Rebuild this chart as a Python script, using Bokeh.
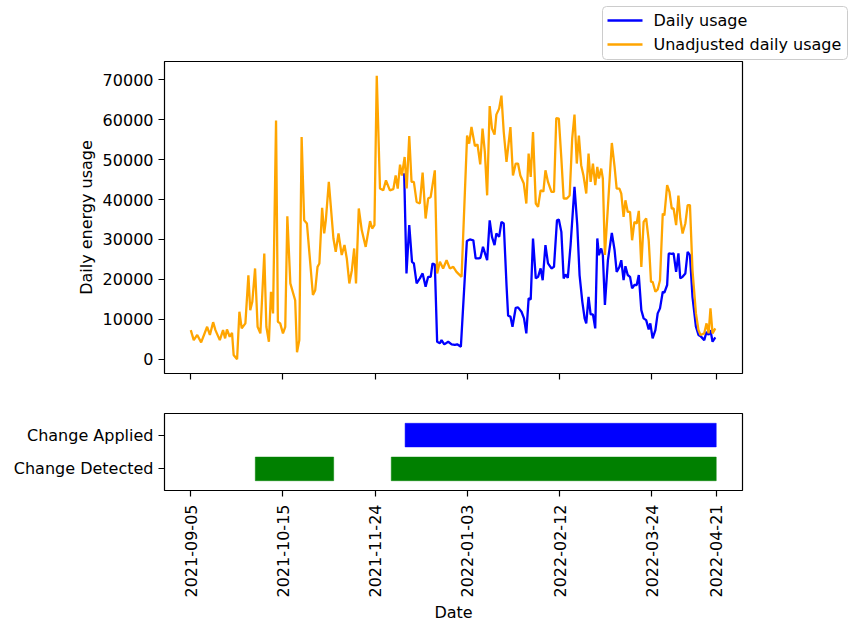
import math
from datetime import datetime, timedelta
from bokeh.plotting import figure
from bokeh.layouts import column
from bokeh.core.properties import value
from bokeh.models import (FixedTicker, DatetimeTickFormatter, Range1d, CustomJSTickFormatter)
from bokeh.embed import file_html
from bokeh.resources import INLINE

start = datetime(2021, 9, 5)

# Unadjusted daily usage: days since 2021-09-05, value
unadj_day = [0.0, 1.3, 2.8, 4.5, 7.1, 8.3, 9.7, 10.7, 12.6, 14.0, 14.9, 15.7, 16.9, 17.9, 18.6, 20.1,
             21.1, 22.1, 23.7, 25.0, 25.8, 26.7, 27.9, 29.0, 30.2, 31.9, 32.8, 33.9, 34.8, 35.7, 37.0,
             37.8, 38.8, 40.0, 41.0, 41.9, 43.2, 45.3, 46.1, 47.1, 48.1, 49.2, 50.4, 53.0, 54.0, 55.0,
             55.8, 57.0, 57.9, 58.6, 59.9, 61.9, 62.9, 64.1, 65.5, 66.7, 67.7, 68.8, 69.9, 70.9, 71.7,
             72.9, 74.2, 75.9, 77.8, 78.7, 79.7, 80.7, 82.1, 83.5, 84.7, 86.4, 87.9, 88.9, 89.8, 90.8,
             91.6, 92.8, 93.7, 94.8, 95.8, 96.8, 98.0, 99.4, 100.6, 101.9, 103.0, 104.1, 105.9, 106.9,
             108.1, 109.5, 111.0, 112.4, 113.9, 115.3, 117.5, 119.9, 120.8, 121.8, 123.3, 124.4, 125.6,
             126.6, 127.6, 128.6, 129.7, 130.7, 131.8, 132.6, 133.8, 134.8, 135.8, 137.0, 138.7, 139.8,
             141.0, 142.0, 143.0, 144.5, 145.6, 146.6, 147.5, 148.5, 149.7, 150.7, 151.8, 153.0, 153.9,
             155.0, 156.5, 157.6, 158.6, 159.7, 160.8, 161.8, 163.2, 164.4, 165.5, 166.5, 167.5, 168.4,
             169.4, 170.4, 171.6, 172.6, 173.5, 174.5, 175.5, 176.4, 177.1, 178.1, 178.8, 179.7, 181.0,
             182.7, 183.9, 184.8, 186.0, 186.8, 187.8, 188.6, 189.6, 190.6, 191.5, 192.5, 193.5, 194.4,
             195.5, 196.5, 197.6, 198.7, 199.7, 200.4, 201.6, 202.6, 203.6, 204.8, 205.5, 206.7, 207.7,
             208.7, 209.5, 210.6, 211.6, 212.4, 213.4, 214.6, 215.6, 216.6, 217.7, 219.2, 220.3, 221.2,
             222.8, 223.8, 224.7, 225.5, 226.4, 227.6]
unadj_val = [7300, 4800, 6100, 4250, 8150, 6100, 9300, 7300, 4800, 7300, 5250, 7500, 5650, 6650, 1100, 0,
             11900, 7750, 9000, 21000, 12300, 14400, 22750, 8150, 6500, 26500, 8150, 4400, 16900, 11500, 59800,
             9400, 9000, 6500, 8150, 35800, 19000, 14800, 1750, 4800, 55650, 34800, 34000, 16100, 17300, 23150,
             24000, 37900, 31500, 34800, 44400, 30250, 26900, 31500, 26100, 28600, 25250, 19000, 22300, 27750, 19000,
             37750, 32300, 28150, 34600, 32750, 33600, 71000, 42750, 42300, 44800, 42300, 42600, 46000, 42750, 48750,
             46000, 50650, 42750, 55900, 44400, 44400, 39400, 39000, 46750, 35250, 40250, 40650, 47300, 21500,
             24400, 22750, 24800, 22750, 23150, 21900, 20650, 56000, 54000, 58150, 53400, 53800, 48800,
             57750, 51900, 41050, 63400, 57750, 56250, 61250, 62750, 66000, 56900, 49400, 58150, 46000,
             49000, 49000, 46000, 44000, 39000, 51500, 45650, 56900, 39000, 38150, 42300, 42000, 47300,
             44400, 41900, 41900, 60400, 60250, 50250, 40250, 40250, 41000, 55250, 61250, 49000, 56000,
             48600, 46000, 41500, 51500, 44400, 49000, 43600, 48150, 45250, 47750, 45250, 26100, 38150,
             54150, 48150, 42750, 42750, 41500, 35650, 39800, 36900, 36900, 29800, 34400, 34000, 37150,
             23150, 34400, 35250, 29800, 19400, 19400, 16900, 17500, 19800, 36500, 36000, 43600, 41900,
             37750, 37750, 33600, 41000, 35250, 31500, 34000, 38600, 38600, 22300, 11500, 7300, 6100,
             6500, 9000, 6500, 12750, 6500, 7750]

# Daily usage (adjusted): days since 2021-09-05, value
daily_day = [92.6, 93.6, 94.8, 96.0, 96.8, 98.0, 99.4, 100.6, 101.9, 103.0, 104.1, 104.9, 105.9, 106.9,
             108.1, 108.8, 110.0, 111.7, 113.2, 114.6, 115.6, 117.2, 119.8, 121.1, 122.6, 123.6, 124.9,
             125.7, 126.8, 128.6, 129.7, 130.7, 131.8, 132.6, 133.8, 134.8, 135.8, 137.0, 137.7, 138.7,
             139.6, 141.0, 142.0, 143.5, 144.6, 145.6, 146.6, 147.5, 148.5, 149.7, 150.7, 151.8, 152.7,
             153.9, 155.0, 156.5, 157.6, 158.9, 159.7, 160.8, 161.8, 162.6, 163.6, 164.8, 166.5, 167.7,
             168.7, 169.9, 170.9, 171.6, 172.6, 173.5, 174.5, 175.5, 176.4, 177.1, 178.1, 178.8, 179.7,
             181.0, 182.7, 183.9, 184.8, 186.0, 186.8, 187.8, 188.6, 189.6, 190.6, 191.5, 192.5, 193.5,
             194.4, 195.5, 196.5, 197.6, 198.7, 199.4, 200.4, 201.6, 202.6, 203.6, 204.8, 205.5, 206.7,
             207.4, 208.7, 209.5, 210.6, 211.6, 212.4, 213.4, 214.6, 215.6, 216.6, 217.7, 219.2, 220.3,
             221.2, 222.8, 223.8, 224.7, 225.5, 226.4, 227.6]
daily_val = [46600, 21500, 33600, 24400, 24000, 19000, 20250, 21500, 18150, 20650, 20650, 24000, 23750, 4400,
             4000, 4800, 3750, 4400, 3750, 3600, 3750, 3150, 29600, 30000, 29800, 25300, 25250,
             25400, 28150, 24800, 34800, 30650, 28600, 31500, 30650, 34400, 34000, 18600, 10900, 10700,
             8150, 12900, 13000, 11900, 10250, 6500, 15250, 15000, 30250, 20250, 20650, 22750, 19800,
             28600, 24000, 22750, 23150, 34800, 35000, 31900, 20250, 21250, 20400, 28600, 43150, 33600,
             21100, 14400, 10250, 9000, 15650, 11250, 11250, 7750, 30250, 26100, 27750, 26100, 13600,
             24800, 31650, 27300, 21900, 23150, 24800, 19800, 23300, 21100, 20650, 17750, 18600, 18600,
             21100, 12300, 10250, 9800, 7500, 9000, 5250, 7300, 11500, 12750, 16900, 16700, 18600,
             26500, 26400, 26500, 21900, 26500, 20250, 20650, 21500, 26900, 26100, 15650, 8150, 6100,
             5800, 4800, 6900, 6100, 7300, 4400, 5500]

tick_labels = ["2021-09-05", "2021-10-15", "2021-11-24", "2022-01-03",
               "2022-02-12", "2022-03-24", "2022-04-21"]
y_ticks = [0, 10000, 20000, 30000, 40000, 50000, 60000, 70000]

change_categories = ["Change Detected", "Change Applied"]
detected_start = ["2021-10-03", "2021-12-01"]
detected_end = ["2021-11-06", "2022-04-21"]
applied_start = ["2021-12-07"]
applied_end = ["2022-04-21"]

series_labels = ["Daily usage", "Unadjusted daily usage"]
series_colors = ["#0000ff", "#ffa500"]

FONT = "DejaVu Sans"
FS = "16px"
W = 848
LEG_H = 61


def d2t(d):
    return start + timedelta(days=d)


def s2t(s):
    return datetime.strptime(s, "%Y-%m-%d")


def ms(t):
    return (t - datetime(1970, 1, 1)).total_seconds() * 1000.0


ux = [d2t(d) for d in unadj_day]
dx = [d2t(d) for d in daily_day]

all_x = ux + dx + [s2t(s) for s in detected_start + detected_end + applied_start + applied_end]
xmin, xmax = min(all_x), max(all_x)
span = xmax - xmin
x_range = Range1d(xmin - span * 0.05, xmax + span * 0.05)

all_y = unadj_val + daily_val
ymin, ymax = min(all_y), max(all_y)
ys = ymax - ymin
y_range = Range1d(ymin - 0.05 * ys, ymax + 0.05 * ys)

tick_ms = [ms(s2t(s)) for s in tick_labels]
fmt = "%Y-%m-%d"
formatter = DatetimeTickFormatter(milliseconds=fmt, seconds=fmt, minsec=fmt, minutes=fmt,
                                  hourmin=fmt, hours=fmt, days=fmt, months=fmt, years=fmt)


def style_axes(p):
    p.xgrid.visible = False
    p.ygrid.visible = False
    p.outline_line_color = "black"
    p.outline_line_width = 1.2
    p.background_fill_color = "white"
    p.border_fill_color = "white"
    for ax in (p.xaxis[0], p.yaxis[0]):
        ax.axis_line_color = None
        ax.major_tick_out = 6
        ax.major_tick_in = 0
        ax.major_tick_line_width = 1.2
        ax.major_tick_line_color = "black"
        ax.minor_tick_out = 0
        ax.minor_tick_in = 0
        ax.major_label_text_font = FONT
        ax.major_label_text_font_size = FS
        ax.major_label_text_color = "black"
        ax.axis_label_text_font = FONT
        ax.axis_label_text_font_size = FS
        ax.axis_label_text_font_style = "normal"
        ax.axis_label_text_color = "black"


# ---- legend strip (separate root above the axes), drawn in pixel units ----
pl = figure(width=W, height=LEG_H, x_range=Range1d(0, W), y_range=Range1d(LEG_H, 0),
            min_border=0, x_axis_location=None, y_axis_location=None,
            output_backend="svg", toolbar_location=None)
pl.outline_line_color = None
pl.grid.visible = False
box_l, box_r, box_t, box_b = 602, 847, 6, 59
row_y = [20, 44]
box = pl.quad(left=[box_l], right=[box_r], top=[box_t], bottom=[box_b],
              fill_color="white", line_color="#cccccc", line_width=1)
if "border_radius" in box.glyph.properties():
    box.glyph.border_radius = 4
pl.segment(x0=[box_l + 5] * 2, x1=[box_l + 40] * 2, y0=row_y, y1=row_y,
           line_color=series_colors, line_width=2.3)
pl.text(x=[box_l + 51] * 2, y=row_y, text=series_labels,
        text_font=value(FONT), text_font_size=value(FS), text_color="black",
        text_baseline="middle", text_align="left")

# ---- top axes ----
p1 = figure(frame_width=578, frame_height=312, x_axis_type="datetime",
            x_range=x_range, y_range=y_range,
            min_border_left=164, min_border_right=106, min_border_top=0, min_border_bottom=20,
            output_backend="svg", toolbar_location=None)
style_axes(p1)
p1.xaxis.ticker = FixedTicker(ticks=tick_ms)
p1.xaxis.formatter = CustomJSTickFormatter(code="return '';")
p1.xaxis.major_label_standoff = 0
p1.yaxis.ticker = FixedTicker(ticks=y_ticks)
p1.yaxis.axis_label = "Daily energy usage"
p1.yaxis.major_label_standoff = 5
p1.yaxis.axis_label_standoff = 4

p1.line(dx, daily_val, line_color=series_colors[0], line_width=2.3)
p1.line(ux, unadj_val, line_color=series_colors[1], line_width=2.3)

# ---- bottom axes ----
p2 = figure(frame_width=578, frame_height=77, x_axis_type="datetime",
            x_range=p1.x_range, y_range=Range1d(-0.64, 1.64),
            min_border_left=164, min_border_right=106, min_border_top=20, min_border_bottom=100,
            output_backend="svg", toolbar_location=None)
style_axes(p2)
p2.xaxis.ticker = FixedTicker(ticks=tick_ms)
p2.xaxis.formatter = formatter
p2.xaxis.major_label_orientation = math.pi / 2
p2.xaxis.major_label_standoff = 8
p2.xaxis.axis_label = "Date"
p2.xaxis.axis_label_standoff = 3
p2.yaxis.ticker = FixedTicker(ticks=[0, 1])
p2.yaxis.major_label_overrides = {0: change_categories[0], 1: change_categories[1]}
p2.yaxis.major_label_standoff = 5

p2.hbar(y=[0] * len(detected_start), left=[s2t(s) for s in detected_start],
        right=[s2t(s) for s in detected_end], height=0.7,
        fill_color="#008000", line_color="#008000", line_width=0.5)
p2.hbar(y=[1] * len(applied_start), left=[s2t(s) for s in applied_start],
        right=[s2t(s) for s in applied_end], height=0.7,
        fill_color="#0000ff", line_color="#0000ff", line_width=0.5)

layout = column(p1, p2, spacing=0)
open("out.html", "w").write(file_html([pl, layout], INLINE))
